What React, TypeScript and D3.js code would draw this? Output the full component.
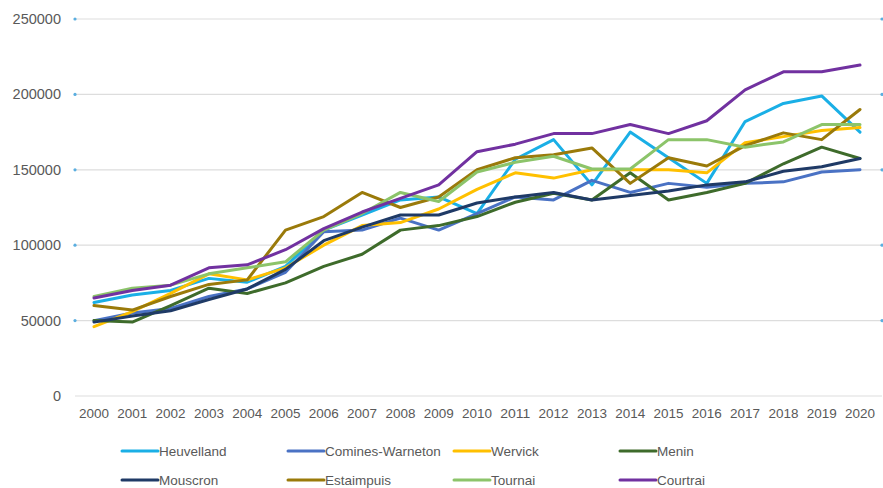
import React from "react";
import * as d3 from "d3";

const years = ["2000","2001","2002","2003","2004","2005","2006","2007","2008","2009","2010","2011","2012","2013","2014","2015","2016","2017","2018","2019","2020"];
const yTicks = [0, 50000, 100000, 150000, 200000, 250000];

const heuvelland = [62000,67000,70000,78000,75500,86000,110000,120000,130000,132000,121000,157000,170000,140000,175000,158000,141000,182000,194000,199000,175000];
const comines = [50000,55000,58000,66000,71000,82000,109000,110000,118000,110000,121000,132000,130000,143000,135000,141000,138500,141000,142000,148500,150000];
const wervick = [46000,56000,68000,81000,77000,85000,100000,113000,115000,124000,137000,148000,144500,150000,150000,150000,148000,168000,172000,176000,178000];
const menin = [50000,49000,60000,71500,68000,75000,86000,94000,110000,113000,119000,128500,134500,130000,148000,130000,135000,141000,154000,165000,157500];
const mouscron = [49000,53000,56500,64000,71000,84000,103000,112000,120000,120000,128000,132000,135000,130000,133000,136000,140000,142000,149000,152000,157500];
const estaimpuis = [60000,57000,66000,74000,77000,110000,119000,135000,125000,132000,150000,158000,160000,164500,141000,158000,152500,166000,174500,170000,190000];
const tournai = [66000,71500,73500,81000,85000,89000,110000,121000,135000,129000,148500,155000,159000,150500,150500,170000,170000,165000,168500,180000,180000];
const courtrai = [65000,70000,73500,85000,87000,97000,111000,122000,131000,140000,162000,167000,174000,174000,180000,174000,182500,203000,215000,215000,219500];

const seriesNames = ["Heuvelland","Comines-Warneton","Wervick","Menin","Mouscron","Estaimpuis","Tournai","Courtrai"];
const seriesValues = [heuvelland, comines, wervick, menin, mouscron, estaimpuis, tournai, courtrai];
const seriesColors = ["#1AAFE6","#4A72C4","#FFC000","#3E6B2B","#1F3A66","#9A7A0A","#8CC46A","#7131A0"];

const legendX = [122, 288, 454, 620];
const legendY = [451, 480];

export default function App() {
  const W = 883, H = 488;
  const x = d3.scaleLinear().domain([0, years.length - 1]).range([94, 860]);
  const y = d3.scaleLinear().domain([0, 250000]).range([396, 19]);
  const line = d3.line<number>().x((_, i) => x(i)).y((d) => y(d));
  const font = "'Liberation Sans', Arial, sans-serif";
  return (
    <svg width={W} height={H} style={{ position: "absolute", left: 0, top: 0, background: "#fff" }}>
      {yTicks.map((t) => (
        <g key={t}>
          <line x1={75} x2={882} y1={y(t)} y2={y(t)} stroke="#DDDDDD" strokeWidth={1.2} />
          {t > 0 && <circle cx={75} cy={y(t)} r={1.6} fill="#5AAEE0" />}
          {t > 0 && <circle cx={882} cy={y(t)} r={1.6} fill="#5AAEE0" />}
          <text x={61} y={y(t)} dy="0.35em" textAnchor="end" fontFamily={font} fontSize={14.5} fill="#595959">{t}</text>
        </g>
      ))}
      {years.map((yr, i) => (
        <text key={yr} x={x(i)} y={418} textAnchor="middle" fontFamily={font} fontSize={13.5} fill="#595959" textLength={30} lengthAdjust="spacingAndGlyphs">{yr}</text>
      ))}
      {seriesValues.map((vals, k) => (
        <path key={seriesNames[k]} d={line(vals) || ""} fill="none" stroke={seriesColors[k]} strokeWidth={3} strokeLinejoin="round" strokeLinecap="round" />
      ))}
      {seriesNames.map((name, k) => {
        const lx = legendX[k % 4];
        const ly = legendY[Math.floor(k / 4)];
        return (
          <g key={name}>
            <line x1={lx} x2={lx + 36} y1={ly} y2={ly} stroke={seriesColors[k]} strokeWidth={3} strokeLinecap="round" />
            <text x={lx + 37} y={ly} dy="0.35em" fontFamily={font} fontSize={13.5} fill="#595959">{name}</text>
          </g>
        );
      })}
    </svg>
  );
}
